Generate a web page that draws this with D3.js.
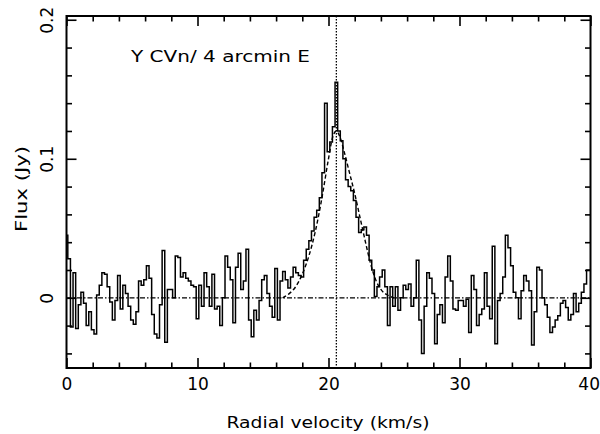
<!DOCTYPE html>
<html>
<head>
<meta charset="utf-8">
<script src="https://cdn.jsdelivr.net/npm/d3@7"></script>
<style>
  body { margin: 0; background: #fff; }
  text { font-family: "DejaVu Sans", sans-serif; fill: #000; }
</style>
</head>
<body>
<div id="chart"></div>
<script>
// Spectrum: flux (Jy) per channel, channels start at 0 km/s, one every 0.2 km/s
const channelStart = 0;
const channelStep = 0.2;
const flux = [
  0.045, 0.028, -0.021, 0.018, -0.022, -0.005, 0.004, -0.004, -0.020, -0.010,   // 0 - 1.8
  -0.023, -0.026, 0.002, 0.009, 0.018, 0.017, 0.008, -0.003, -0.016, -0.002,    // 2 - 3.8
  0.016, -0.008, 0.009, 0.003, -0.006, -0.016, -0.019, -0.010, 0.012, 0.009,    // 4 - 5.8
  0.013, 0.023, 0.014, -0.012, -0.026, -0.029, -0.005, 0.034, -0.032, 0.006,    // 6 - 7.8
  0.006, 0.000, 0.030, 0.029, 0.015, 0.018, 0.014, 0.012, 0.009, 0.008,         // 8 - 9.8
  -0.015, 0.009, -0.006, 0.018, 0.008, -0.006, 0.017, -0.008, -0.006, -0.020,   // 10 - 11.8
  0.000, 0.030, 0.022, 0.013, -0.018, 0.022, 0.032, 0.006, 0.012, 0.035,        // 12 - 13.8
  -0.016, -0.028, -0.009, -0.016, -0.002, 0.013, 0.016, 0.003, -0.006, -0.014,  // 14 - 15.8
  0.021, -0.016, 0.012, 0.019, 0.013, 0.007, 0.015, 0.022, 0.018, 0.016,        // 16 - 17.8
  0.015, 0.027, 0.035, 0.041, 0.048, 0.058, 0.063, 0.072, 0.090, 0.140,         // 18 - 19.8
  0.105, 0.112, 0.123, 0.155, 0.120, 0.113, 0.100, 0.085, 0.080, 0.077,         // 20 - 21.8
  0.070, 0.058, 0.047, 0.049, 0.051, 0.045, 0.027, 0.020, 0.001, 0.008,         // 22 - 23.8
  0.015, 0.020, 0.008, -0.020, 0.008, -0.006, 0.008, -0.009, 0.000, 0.009,      // 24 - 25.8
  0.006, 0.010, -0.006, 0.000, 0.027, -0.016, -0.040, -0.006, 0.018, 0.014,     // 26 - 27.8
  0.003, -0.033, -0.012, -0.005, -0.018, 0.015, 0.030, 0.012, -0.008, -0.009,   // 28 - 29.8
  -0.002, -0.002, -0.006, -0.001, -0.025, 0.016, 0.006, -0.020, -0.012, -0.008, // 30 - 31.8
  0.018, -0.006, -0.015, 0.037, -0.033, -0.002, 0.003, 0.015, 0.045, 0.036,     // 32 - 33.8
  0.023, 0.004, 0.000, -0.015, 0.005, 0.016, 0.012, 0.005, -0.034, -0.010,      // 34 - 35.8
  0.022, 0.020, 0.000, -0.005, -0.014, -0.025, -0.021, -0.016, -0.013, -0.004,  // 36 - 37.8
  -0.002, -0.007, -0.016, -0.012, 0.003, -0.010, -0.004, 0.004, 0.010, 0.020,   // 38 - 39.8
  0.020                                                                          // 40
];

// Fitted profile (dashed)
const fitVelocity = [16.5, 17.0, 17.5, 18.0, 18.5, 19.0, 19.5, 20.0, 20.3, 20.6, 20.9, 21.2, 21.6, 22.0, 22.4, 22.8, 23.2, 23.6, 24.0, 24.5, 25.0];
const fitFlux     = [0.000, 0.003, 0.008, 0.017, 0.030, 0.048, 0.072, 0.100, 0.115, 0.120, 0.115, 0.105, 0.090, 0.075, 0.058, 0.041, 0.025, 0.013, 0.006, 0.002, 0.000];

const lineCentre = 20.6;   // km/s, dotted marker
const xMajorTicks = [0, 10, 20, 30, 40];
const xMinorTicks = [2, 4, 6, 8, 12, 14, 16, 18, 22, 24, 26, 28, 32, 34, 36, 38];
const yMajorTicks = [0, 0.1, 0.2];
const yMinorTicks = [-0.04, -0.02, 0.02, 0.04, 0.06, 0.08, 0.12, 0.14, 0.16, 0.18];
const yTickLabels = ["0", "0.1", "0.2"];
const titleText = "Y CVn/ 4 arcmin E";
const xLabel = "Radial velocity (km/s)";
const yLabel = "Flux (Jy)";

const width = 600, height = 434;
const margin = { left: 66.5, right: 9.5, top: 16, bottom: 66 };

const svg = d3.select("#chart").append("svg")
  .attr("width", width)
  .attr("height", height);

const x = d3.scaleLinear().domain([0, 40]).range([margin.left, width - margin.right]);
const y = d3.scaleLinear().domain([-0.0505, 0.2027]).range([height - margin.bottom, margin.top]);

svg.append("defs").append("clipPath").attr("id", "plot")
  .append("rect")
  .attr("x", x(0)).attr("y", y(0.2027))
  .attr("width", x(40) - x(0)).attr("height", y(-0.0505) - y(0.2027));

const points = flux.map((f, i) => [channelStart + i * channelStep, f]);
const plot = svg.append("g").attr("clip-path", "url(#plot)");

// zero baseline, dash-dot
plot.append("line")
  .attr("x1", x(0)).attr("x2", x(40))
  .attr("y1", y(0)).attr("y2", y(0))
  .attr("stroke", "#000").attr("stroke-width", 1.3)
  .attr("stroke-dasharray", "5,2,1.5,2");

// line centre marker, dotted
plot.append("line")
  .attr("x1", x(lineCentre)).attr("x2", x(lineCentre))
  .attr("y1", y(0.2027)).attr("y2", y(-0.0505))
  .attr("stroke", "#000").attr("stroke-width", 1.3)
  .attr("stroke-dasharray", "1.5,1.5");

// histogram spectrum
plot.append("path")
  .datum(points)
  .attr("fill", "none")
  .attr("stroke", "#000")
  .attr("stroke-width", 1.5)
  .attr("d", d3.line().x(d => x(d[0])).y(d => y(d[1])).curve(d3.curveStep));

// fitted profile
plot.append("path")
  .datum(fitVelocity.map((v, i) => [v, fitFlux[i]]))
  .attr("fill", "none")
  .attr("stroke", "#000")
  .attr("stroke-width", 1.4)
  .attr("stroke-dasharray", "4,2.5")
  .attr("d", d3.line().x(d => x(d[0])).y(d => y(d[1])).curve(d3.curveMonotoneX));

// Axes: ticks point inward on all four sides
const x0 = x(0), x1 = x(40), yb = y(-0.0505), yt = y(0.2027);
const styleAxis = g => {
  g.select(".domain").remove();
  g.selectAll(".tick line").attr("stroke", "#000").attr("stroke-width", 1.6);
  g.selectAll("text").style("font-size", "17px");
};

const bottomAxis = svg.append("g").attr("transform", `translate(0,${yb})`)
  .call(d3.axisBottom(x).tickValues(xMajorTicks).tickSize(-10).tickPadding(10).tickFormat(d3.format("d")))
  .call(styleAxis);
// last label sits against the page edge, keep it inside
bottomAxis.selectAll("text").filter(d => d === 40)
  .attr("text-anchor", "end").attr("x", 9);
svg.append("g").attr("transform", `translate(0,${yb})`)
  .call(d3.axisBottom(x).tickValues(xMinorTicks).tickSize(-5.5).tickFormat(""))
  .call(styleAxis);
svg.append("g").attr("transform", `translate(0,${yt})`)
  .call(d3.axisTop(x).tickValues(xMajorTicks).tickSize(-10).tickFormat(""))
  .call(styleAxis);
svg.append("g").attr("transform", `translate(0,${yt})`)
  .call(d3.axisTop(x).tickValues(xMinorTicks).tickSize(-5.5).tickFormat(""))
  .call(styleAxis);

const leftAxis = svg.append("g").attr("transform", `translate(${x0},0)`)
  .call(d3.axisLeft(y).tickValues(yMajorTicks).tickSize(-10).tickFormat((d, i) => yTickLabels[i]))
  .call(styleAxis);
leftAxis.selectAll("text")
  .attr("transform", "rotate(-90)")
  .attr("x", 0).attr("y", -13.5).attr("dy", null)
  .attr("text-anchor", "middle");
svg.append("g").attr("transform", `translate(${x0},0)`)
  .call(d3.axisLeft(y).tickValues(yMinorTicks).tickSize(-5.5).tickFormat(""))
  .call(styleAxis);
svg.append("g").attr("transform", `translate(${x1},0)`)
  .call(d3.axisRight(y).tickValues(yMajorTicks).tickSize(-10).tickFormat(""))
  .call(styleAxis);
svg.append("g").attr("transform", `translate(${x1},0)`)
  .call(d3.axisRight(y).tickValues(yMinorTicks).tickSize(-5.5).tickFormat(""))
  .call(styleAxis);

// frame
svg.append("rect")
  .attr("x", x0).attr("y", yt)
  .attr("width", x1 - x0).attr("height", yb - yt)
  .attr("fill", "none").attr("stroke", "#000").attr("stroke-width", 2);

// texts
svg.append("text")
  .attr("x", 131).attr("y", 62)
  .attr("textLength", 179).attr("lengthAdjust", "spacingAndGlyphs")
  .style("font-size", "16px")
  .text(titleText);

svg.append("text")
  .attr("x", 328).attr("y", 428)
  .attr("text-anchor", "middle")
  .attr("textLength", 203).attr("lengthAdjust", "spacingAndGlyphs")
  .style("font-size", "16px")
  .text(xLabel);

svg.append("text")
  .attr("transform", "translate(27,189) rotate(-90)")
  .attr("text-anchor", "middle")
  .attr("textLength", 86).attr("lengthAdjust", "spacingAndGlyphs")
  .style("font-size", "16px")
  .text(yLabel);
</script>
</body>
</html>
